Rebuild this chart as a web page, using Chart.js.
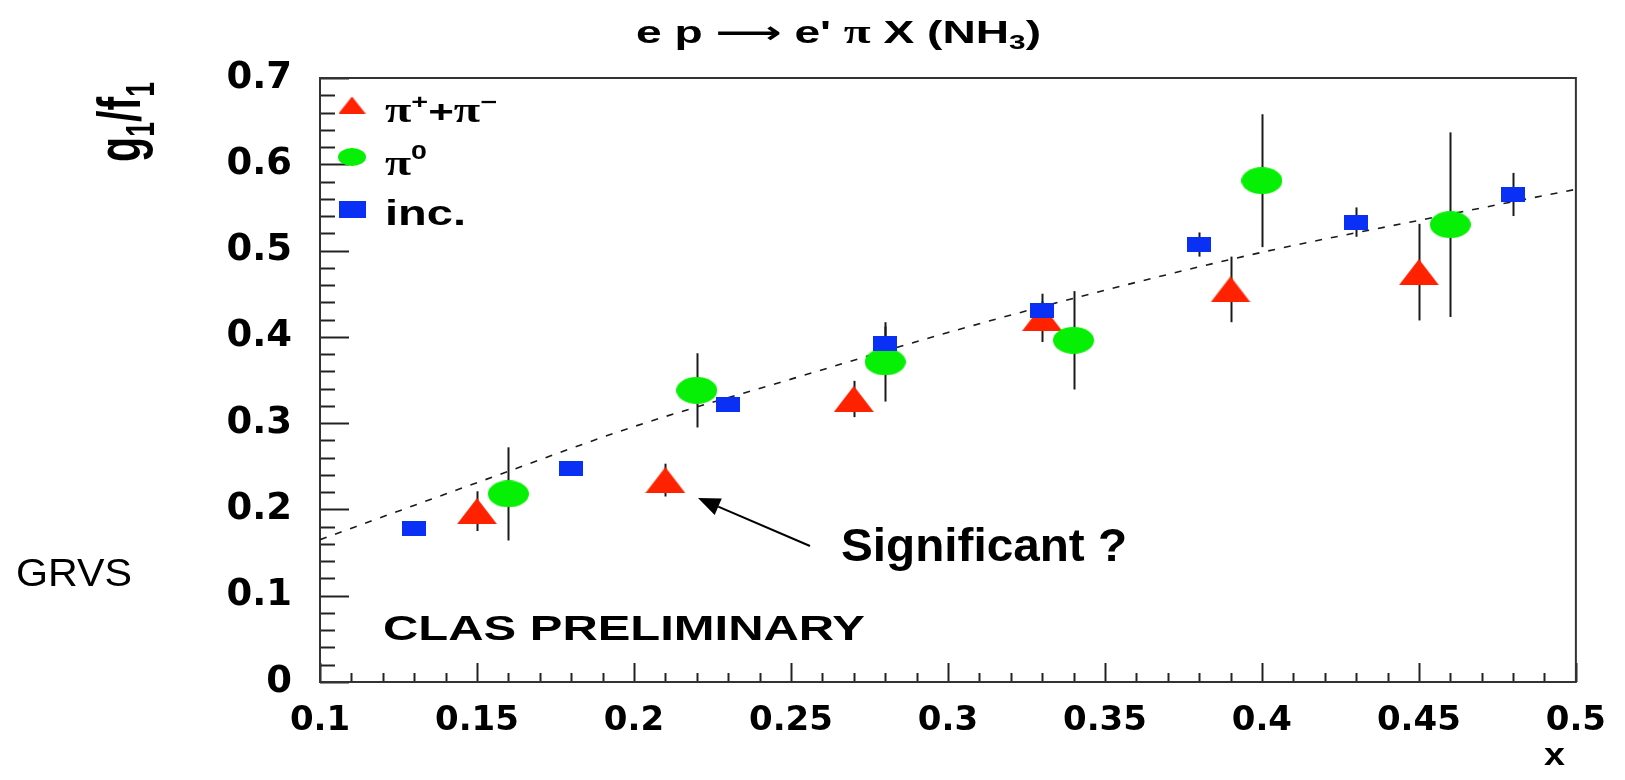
<!DOCTYPE html>
<html>
<head>
<meta charset="utf-8">
<title>g1/f1 vs x</title>
<script src="https://cdn.jsdelivr.net/npm/chart.js@4.4.1/dist/chart.umd.min.js"></script>
<style>
  html, body { margin: 0; padding: 0; background: #fff; }
  canvas { display: block; }
</style>
</head>
<body>
<canvas id="asymChart" width="1625" height="780"></canvas>
<script>
// pi+ + pi- sample
const xPiPm = [0.15, 0.21, 0.27, 0.33, 0.39, 0.45];
const yPiPm = [0.198, 0.234, 0.328, 0.422, 0.455, 0.475];
const ePiPm = [0.023, 0.019, 0.021, 0.028, 0.038, 0.056];

// pi0 sample
const xPi0 = [0.16, 0.22, 0.28, 0.34, 0.40, 0.46];
const yPi0 = [0.218, 0.338, 0.371, 0.396, 0.581, 0.530];
const ePi0 = [0.054, 0.043, 0.046, 0.057, 0.077, 0.107];

// inclusive
const xInc = [0.13, 0.18, 0.23, 0.28, 0.33, 0.38, 0.43, 0.48];
const yInc = [0.178, 0.248, 0.322, 0.392, 0.431, 0.507, 0.533, 0.565];
const eInc = [0.005, 0.005, 0.006, 0.020, 0.010, 0.014, 0.017, 0.025];

// GRVS curve
const xGrvs = [0.1, 0.15, 0.2, 0.25, 0.3, 0.35, 0.4, 0.45, 0.5];
const yGrvs = [0.165, 0.231, 0.296, 0.351, 0.405, 0.454, 0.498, 0.535, 0.571];

const xTicks = [0.1, 0.15, 0.2, 0.25, 0.3, 0.35, 0.4, 0.45, 0.5];
const yTicks = [0, 0.1, 0.2, 0.3, 0.4, 0.5, 0.6, 0.7];
const seriesNames = ['π+π-', 'π0', 'inc.'];

const SANS = '"Liberation Sans", Arial, sans-serif';
const SERIF = '"Liberation Serif", "Times New Roman", serif';
const RED = '#ff2200';
const GREEN = '#05f005';
const BLUE = '#0a30f5';

function xy(xs, ys) {
    return xs.map((x, i) => ({ x: x, y: ys[i] }));
}

function marker(w, h, color, shape) {
    const c = document.createElement('canvas');
    c.width = w;
    c.height = h;
    const g = c.getContext('2d');
    g.fillStyle = color;
    g.beginPath();
    if (shape === 'tri') {
        g.moveTo(w / 2, 0);
        g.lineTo(w, h);
        g.lineTo(0, h);
        g.closePath();
    } else if (shape === 'ell') {
        g.ellipse(w / 2, h / 2, w / 2, h / 2, 0, 0, 2 * Math.PI);
    } else {
        g.rect(0, 0, w, h);
    }
    g.fill();
    return c;
}

const triMark = marker(40, 26, RED, 'tri');
const ellMark = marker(41, 27, GREEN, 'ell');
const boxMark = marker(24, 15, BLUE, 'box');

const legendMarks = [
    marker(27, 17, RED, 'tri'),
    marker(28, 18, GREEN, 'ell'),
    marker(27, 17, BLUE, 'box')
];

function runsWidth(ctx, runs) {
    let w = 0;
    runs.forEach(r => {
        ctx.font = r.font;
        w += ctx.measureText(r.text).width;
    });
    return w;
}

// draws a list of text pieces, squeezed/stretched to a given length
function drawRuns(ctx, runs, x, y, width, opt) {
    opt = opt || {};
    const w = runsWidth(ctx, runs);
    ctx.save();
    ctx.translate(x, y);
    if (opt.rotate) ctx.rotate(opt.rotate);
    ctx.scale(width / w, opt.sy || 1);
    ctx.fillStyle = '#000';
    ctx.textAlign = 'left';
    ctx.textBaseline = 'alphabetic';
    let cx = 0;
    runs.forEach(r => {
        ctx.font = r.font;
        ctx.fillText(r.text, cx, r.dy || 0);
        cx += ctx.measureText(r.text).width;
    });
    ctx.restore();
}

function fmt(v) {
    return String(+v.toFixed(2));
}

// frame + inward major/minor ticks
const framePlugin = {
    id: 'frame',
    beforeDatasetsDraw(chart) {
        const { ctx, chartArea: a, scales: { x, y } } = chart;
        ctx.save();
        ctx.strokeStyle = '#222';
        ctx.lineWidth = 2;

        for (let i = 0; i <= 40; i++) {
            const px = Math.round(x.getPixelForValue(0.1 + i * 0.01)) + 0.5;
            const len = i % 5 === 0 ? 19 : 9;
            ctx.beginPath();
            ctx.moveTo(px, a.bottom);
            ctx.lineTo(px, a.bottom - len);
            ctx.stroke();
        }
        for (let i = 0; i <= 35; i++) {
            const py = Math.round(y.getPixelForValue(i * 0.02)) + 0.5;
            const len = i % 5 === 0 ? 29 : 15;
            ctx.beginPath();
            ctx.moveTo(a.left, py);
            ctx.lineTo(a.left + len, py);
            ctx.stroke();
        }

        ctx.strokeStyle = '#333';
        ctx.strokeRect(a.left, a.top, a.right - a.left, a.bottom - a.top);
        ctx.restore();
    }
};

// vertical error bars under the markers
const errorBarPlugin = {
    id: 'errorBars',
    beforeDatasetsDraw(chart) {
        const { ctx, scales: { x, y } } = chart;
        ctx.save();
        ctx.strokeStyle = '#1a1a1a';
        ctx.lineWidth = 2;
        chart.data.datasets.forEach(ds => {
            if (!ds.errorBars) return;
            ds.data.forEach((p, j) => {
                const e = ds.errorBars[j];
                const px = Math.round(x.getPixelForValue(p.x)) + 0.5;
                ctx.beginPath();
                ctx.moveTo(px, y.getPixelForValue(p.y - e));
                ctx.lineTo(px, y.getPixelForValue(p.y + e));
                ctx.stroke();
            });
        });
        ctx.restore();
    }
};

const textPlugin = {
    id: 'texts',
    afterDraw(chart) {
        const ctx = chart.ctx;
        const a = chart.chartArea;

        // title
        const B31 = 'bold 31px ' + SANS;
        drawRuns(ctx, [
            { text: 'e p ', font: B31 },
            { text: '⟶', font: 'bold 31px "DejaVu Sans"' },
            { text: " e' ", font: B31 },
            { text: 'π', font: 'bold 33px ' + SERIF },
            { text: ' X (NH', font: B31 },
            { text: '3', font: 'bold 20px ' + SANS, dy: 6 },
            { text: ')', font: B31 }
        ], 636, 43, 405);

        // y title, rotated
        const B40 = 'bold 40px ' + SANS;
        const B26 = 'bold 26px ' + SANS;
        drawRuns(ctx, [
            { text: 'g', font: B40 },
            { text: '1', font: B26, dy: 9 },
            { text: '/', font: B40 },
            { text: 'f', font: B40 },
            { text: '1', font: B26, dy: 9 }
        ], 140, 162, 80, { rotate: -Math.PI / 2, sy: 1.55 });

        // x title
        drawRuns(ctx, [{ text: 'x', font: 'bold 32px ' + SANS }], 1544, 765, 21);

        // legend
        const lx = a.left + 32;
        const rows = [a.top + 27, a.top + 79, a.top + 131];
        legendMarks.forEach((m, i) => {
            ctx.drawImage(m, lx - m.width / 2, rows[i] - m.height / 2);
        });
        const PI = 'bold 35px ' + SERIF;
        const SUP = 'bold 21px ' + SANS;
        drawRuns(ctx, [
            { text: 'π', font: PI },
            { text: '+', font: SUP, dy: -13 },
            { text: '+', font: 'bold 32px ' + SANS },
            { text: 'π', font: PI },
            { text: '−', font: SUP, dy: -13 }
        ], lx + 33, rows[0] + 17, 112);
        drawRuns(ctx, [
            { text: 'π', font: PI },
            { text: '0', font: SUP, dy: -16 }
        ], lx + 33, rows[1] + 18, 42);
        drawRuns(ctx, [{ text: seriesNames[2], font: 'bold 35px ' + SANS }], lx + 33, rows[2] + 16, 81);

        drawRuns(ctx, [{ text: 'CLAS PRELIMINARY', font: 'bold 35px ' + SANS }], 383, 640, 482);

        drawRuns(ctx, [{ text: 'Significant ?', font: 'bold 47px ' + SANS }], 841, 561, 286);
        drawRuns(ctx, [{ text: 'GRVS', font: '38px ' + SANS }], 16, 586, 116);

        // arrow towards the x = 0.21 point
        const tail = { x: 810, y: 546 };
        const tip = { x: 698, y: 498 };
        const ang = Math.atan2(tip.y - tail.y, tip.x - tail.x);
        const hl = 22, hw = 9;
        const bx = tip.x - hl * Math.cos(ang), by = tip.y - hl * Math.sin(ang);
        ctx.save();
        ctx.strokeStyle = '#000';
        ctx.fillStyle = '#000';
        ctx.lineWidth = 2;
        ctx.beginPath();
        ctx.moveTo(tail.x, tail.y);
        ctx.lineTo(bx, by);
        ctx.stroke();
        ctx.beginPath();
        ctx.moveTo(tip.x, tip.y);
        ctx.lineTo(bx + hw * Math.sin(ang), by - hw * Math.cos(ang));
        ctx.lineTo(bx - hw * Math.sin(ang), by + hw * Math.cos(ang));
        ctx.closePath();
        ctx.fill();
        ctx.restore();
    }
};

const ctx = document.getElementById('asymChart').getContext('2d');

new Chart(ctx, {
    type: 'scatter',
    data: {
        datasets: [
            {
                label: seriesNames[2],
                data: xy(xInc, yInc),
                errorBars: eInc,
                pointStyle: boxMark,
                order: 1
            },
            {
                label: seriesNames[1],
                data: xy(xPi0, yPi0),
                errorBars: ePi0,
                pointStyle: ellMark,
                order: 2
            },
            {
                label: seriesNames[0],
                data: xy(xPiPm, yPiPm),
                errorBars: ePiPm,
                pointStyle: triMark,
                order: 3
            },
            {
                label: 'GRVS',
                data: xy(xGrvs, yGrvs),
                showLine: true,
                borderColor: '#1a1a1a',
                borderWidth: 1.6,
                borderDash: [7, 9],
                cubicInterpolationMode: 'monotone',
                pointRadius: 0,
                order: 4
            }
        ]
    },
    options: {
        responsive: false,
        animation: false,
        devicePixelRatio: 1,
        events: [],
        layout: {
            autoPadding: false,
            padding: { top: 78, right: 45, left: 0, bottom: 0 }
        },
        plugins: {
            legend: { display: false },
            title: { display: false },
            tooltip: { enabled: false }
        },
        scales: {
            x: {
                type: 'linear',
                min: 0.1,
                max: 0.5,
                afterBuildTicks: s => { s.ticks = xTicks.map(v => ({ value: v })); },
                afterFit: s => { s.height = 98; },
                grid: { display: false, drawTicks: false },
                border: { display: false },
                ticks: {
                    autoSkip: false,
                    maxRotation: 0,
                    padding: 19,
                    color: '#000',
                    font: { family: '"DejaVu Sans"', weight: 'bold', size: 34 },
                    callback: v => fmt(v)
                }
            },
            y: {
                type: 'linear',
                min: 0,
                max: 0.7,
                afterBuildTicks: s => { s.ticks = yTicks.map(v => ({ value: v })); },
                afterFit: s => { s.width = 320; },
                grid: { display: false, drawTicks: false },
                border: { display: false },
                ticks: {
                    padding: 28,
                    color: '#000',
                    font: { family: '"DejaVu Sans"', weight: 'bold', size: 37 },
                    callback: v => fmt(v)
                }
            }
        }
    },
    plugins: [framePlugin, errorBarPlugin, textPlugin]
});
</script>
</body>
</html>
